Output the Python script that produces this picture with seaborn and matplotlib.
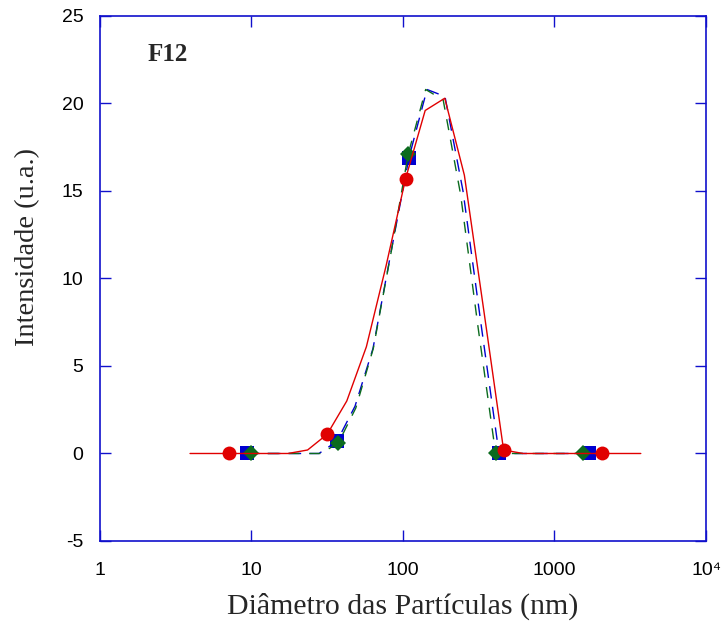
import matplotlib
matplotlib.use("Agg")
import matplotlib.pyplot as plt
import matplotlib.ticker as mticker
import seaborn as sns
import pandas as pd

red_d = [3.93, 5.29, 7.13, 9.60, 12.93, 17.42, 23.46, 31.60, 42.56, 57.33, 77.22, 104.0,
         140.1, 188.7, 254.2, 342.4, 461.3, 621.4, 837.0, 1127, 1519, 2046, 2756, 3712]
red_i = [0, 0, 0, 0, 0, 0, 0.2, 1.1, 3.0, 6.1, 10.7, 15.7,
         19.6, 20.3, 15.9, 8.1, 0.2, 0, 0, 0, 0, 0, 0, 0]

blue_d = [9.34, 12.28, 16.14, 21.22, 27.90, 36.67, 48.23, 63.39, 83.33, 109.5,
          144.0, 189.3, 248.9, 327.3, 430.2, 565.6, 743.5, 977.5, 1285, 1689]
blue_i = [0, 0, 0, 0, 0, 0.7, 2.7, 6.0, 11.5, 16.9,
          20.8, 20.4, 15.0, 7.4, 0, 0, 0, 0, 0, 0]

green_d = [9.92, 12.95, 16.89, 22.01, 28.72, 37.46, 48.81, 63.68, 83.09, 108.2,
           141.2, 184.2, 240.0, 313.1, 408.6, 533.0, 694.3, 906.0, 1182, 1542]
green_i = [0, 0, 0, 0, 0, 0.6, 2.6, 6.0, 11.4, 17.1,
           20.8, 20.2, 14.8, 7.2, 0, 0, 0, 0, 0, 0]

red_marks = [2, 7, 11, 16, 21]
bg_marks = [0, 5, 9, 14, 19]

x_ticks = [1, 10, 100, 1000, 10000]
x_labels = ["1", "10", "100", "1000", "10⁴"]
y_ticks = [-5, 0, 5, 10, 15, 20, 25]

sns.set_style("ticks")
plt.rcParams["font.family"] = ["Liberation Sans", "DejaVu Sans"]
plt.rcParams["axes.unicode_minus"] = False

axis_blue = "#1010CC"
serif = ["Liberation Serif", "DejaVu Serif"]

fig = plt.figure(figsize=(7.25, 6.34), dpi=100)
ax = fig.add_axes([0.1379, 0.1467, 0.8359, 0.8281])

blue = pd.DataFrame({"d": blue_d, "i": blue_i})
green = pd.DataFrame({"d": green_d, "i": green_i})
red = pd.DataFrame({"d": red_d, "i": red_i})

sns.lineplot(data=blue, x="d", y="i", ax=ax, sort=False, estimator=None,
             color="#0000D0", linewidth=1.0, linestyle=(0, (9, 6)),
             marker="s", markersize=10, markeredgewidth=0, markevery=bg_marks)
sns.lineplot(data=green, x="d", y="i", ax=ax, sort=False, estimator=None,
             color="#0B6B1E", linewidth=1.0, linestyle=(3, (8, 7)),
             marker="D", markersize=8.5, markeredgewidth=0, markevery=bg_marks)
sns.lineplot(data=red, x="d", y="i", ax=ax, sort=False, estimator=None,
             color="#E00000", linewidth=1.0,
             marker="o", markersize=10, markeredgewidth=0, markevery=red_marks)

ax.set_xscale("log")
ax.set_xlim(1, 10000)
ax.set_ylim(-5, 25)
ax.xaxis.set_major_locator(mticker.FixedLocator(x_ticks))
ax.xaxis.set_major_formatter(mticker.FixedFormatter(x_labels))
ax.xaxis.set_minor_locator(mticker.NullLocator())
ax.set_yticks(y_ticks)

for s in ax.spines.values():
    s.set_visible(True)
    s.set_color(axis_blue)
    s.set_linewidth(1.2)
ax.tick_params(axis="both", which="major", direction="in", length=8, width=1.0,
               color=axis_blue, labelsize=14, labelcolor="black",
               top=True, right=True, pad=12)
ax.tick_params(axis="x", pad=15)

ax.set_xlabel("Diâmetro das Partículas (nm)", family=serif, fontsize=21.5, labelpad=10)
ax.set_ylabel("Intensidade (u.a.)", family=serif, fontsize=20.5)
ax.yaxis.set_label_coords(-0.099, 0.56)

ax.text(0.078, 0.926, "F12", transform=ax.transAxes, family=serif,
        fontsize=18, fontweight="bold", ha="left", va="center")

plt.savefig("out.png", dpi=100)
